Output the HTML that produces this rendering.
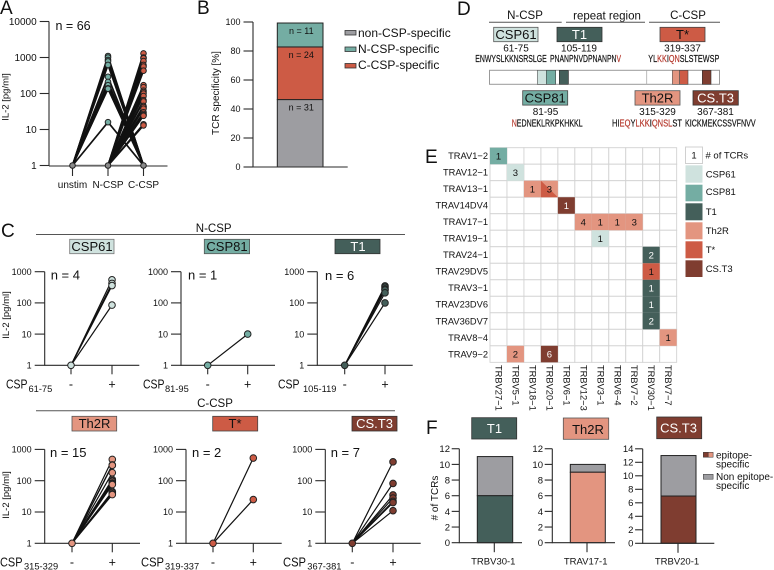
<!DOCTYPE html>
<html lang="en">
<head>
<meta charset="utf-8">
<title>CSP-specific TCR figure</title>
<style>
html,body{margin:0;padding:0;background:#fff;}
svg{display:block;filter:blur(.3px);}
text{font-family:"Liberation Sans",sans-serif;fill:#111;}
.letter{font-size:19px;}
.boxlabel{font-size:13px;text-anchor:middle;}
.hdr{font-size:11.5px;text-anchor:middle;}
.num{font-size:10px;text-anchor:middle;}
.seq{font-size:10px;font-weight:400;stroke:#111;stroke-width:.2;}
.red{fill:#b5372b;stroke:#b5372b;}
.leg{font-size:9.5px;}
.csp{font-size:12.5px;}
.sub{font-size:9.3px;}
</style>
</head>
<body>
<svg id="fig" xmlns="http://www.w3.org/2000/svg" width="774" height="570" viewBox="0 0 774 570">
  <rect x="0" y="0" width="774" height="570" fill="#fff"/>

  <!-- panel letters -->
  <text class="letter" x="0" y="14">A</text>
  <text class="letter" x="197" y="14">B</text>
  <text class="letter" x="1" y="237">C</text>
  <text class="letter" x="457" y="15">D</text>
  <text class="letter" x="425" y="163">E</text>
  <text class="letter" x="426" y="434">F</text>

  <!-- axis titles -->
  <text font-size="9.5" text-anchor="middle" transform="translate(8.5,97) rotate(-90)">IL-2 [pg/ml]</text>
  <text font-size="10" text-anchor="middle" transform="translate(219,93) rotate(-90)">TCR specificity [%]</text>
  <text font-size="9.5" text-anchor="middle" transform="translate(9,315) rotate(-90)">IL-2 [pg/ml]</text>
  <text font-size="9.5" text-anchor="middle" transform="translate(9,495) rotate(-90)">IL-2 [pg/ml]</text>
  <text font-size="10" text-anchor="middle" transform="translate(438,498) rotate(-90)"># of TCRs</text>

  <!-- panel A text -->
  <text x="55.5" y="30" font-size="12.5">n = 66</text>

  <!-- panel B legend -->
  <g>
    <rect x="345" y="30.5" width="11" height="4.5" fill="#9d9da1" stroke="#333" stroke-width=".8"/>
    <text x="358" y="37" font-size="12">non-CSP-specific</text>
    <rect x="345" y="47" width="11" height="4.5" fill="#74ada3" stroke="#333" stroke-width=".8"/>
    <text x="358" y="53" font-size="12">N-CSP-specific</text>
    <rect x="345" y="63.5" width="11" height="4.5" fill="#cd5b45" stroke="#333" stroke-width=".8"/>
    <text x="358" y="69" font-size="12">C-CSP-specific</text>
  </g>

  <!-- panel C headers -->
  <text class="hdr" x="213.7" y="232" font-size="11.5">N-CSP</text>
  <line x1="36" x2="405" y1="234.5" y2="234.5" stroke="#555" stroke-width="1"/>
  <rect x="69.7" y="239.3" width="44.3" height="14.4" fill="#cfe2de" stroke="#777" stroke-width=".8"/>
  <text class="boxlabel" x="92" y="251">CSP61</text>
  <rect x="204.3" y="239.3" width="45.3" height="14.4" fill="#74ada3" stroke="#555" stroke-width=".8"/>
  <text class="boxlabel" x="227" y="251">CSP81</text>
  <rect x="335" y="239.3" width="45" height="14.4" fill="#445f5a" stroke="#333" stroke-width=".8"/>
  <text class="boxlabel" x="358" y="251" style="fill:#fff">T1</text>

  <text class="hdr" x="215" y="407">C-CSP</text>
  <line x1="36" x2="395" y1="410.7" y2="410.7" stroke="#555" stroke-width="1"/>
  <rect x="72" y="416.3" width="44.7" height="14.7" fill="#e39580" stroke="#555" stroke-width=".8"/>
  <text class="boxlabel" x="94.5" y="428">Th2R</text>
  <rect x="212.7" y="416.3" width="45" height="14.7" fill="#cd5b45" stroke="#444" stroke-width=".8"/>
  <text class="boxlabel" x="235" y="428">T*</text>
  <rect x="352" y="416.3" width="45" height="14.7" fill="#7f3d30" stroke="#333" stroke-width=".8"/>
  <text class="boxlabel" x="374.5" y="428" style="fill:#fff">CS.T3</text>

  <!-- panel C x labels -->
  <text class="csp" x="6" y="388.5" textLength="21.5" lengthAdjust="spacingAndGlyphs">CSP</text>
  <text class="sub" x="28.5" y="392">61-75</text>
  <text class="csp" x="143" y="388.5" textLength="21.5" lengthAdjust="spacingAndGlyphs">CSP</text>
  <text class="sub" x="165" y="392">81-95</text>
  <text class="csp" x="278" y="388.5" textLength="21.5" lengthAdjust="spacingAndGlyphs">CSP</text>
  <text class="sub" x="303" y="392">105-119</text>
  <text class="csp" x="0" y="566.5" textLength="22.5" lengthAdjust="spacingAndGlyphs">CSP</text>
  <text class="sub" x="24" y="569.5">315-329</text>
  <text class="csp" x="141" y="566.5" textLength="23" lengthAdjust="spacingAndGlyphs">CSP</text>
  <text class="sub" x="165" y="569.5">319-337</text>
  <text class="csp" x="283" y="566.5" textLength="23" lengthAdjust="spacingAndGlyphs">CSP</text>
  <text class="sub" x="307.3" y="569.5">367-381</text>

  <!-- panel C n labels -->
  <text x="50.7" y="279.5" font-size="13">n = 4</text>
  <text x="188" y="279.5" font-size="13">n = 1</text>
  <text x="325" y="280" font-size="13">n = 6</text>
  <text x="50" y="457" font-size="13">n = 15</text>
  <text x="192" y="457" font-size="13">n = 2</text>
  <text x="330.7" y="457" font-size="13">n = 7</text>

  <!-- panel D -->
  <g>
    <text class="hdr" x="525" y="19">N-CSP</text>
    <line x1="489" x2="561.7" y1="22.3" y2="22.3" stroke="#555" stroke-width="1"/>
    <text class="hdr" x="607" y="19.5">repeat region</text>
    <line x1="566" x2="645" y1="22.3" y2="22.3" stroke="#555" stroke-width="1"/>
    <text class="hdr" x="688" y="19">C-CSP</text>
    <line x1="649" x2="720" y1="22.3" y2="22.3" stroke="#555" stroke-width="1"/>

    <rect x="493.7" y="27.3" width="44.3" height="14.4" fill="#cfe2de" stroke="#555" stroke-width=".8"/>
    <text class="boxlabel" x="516" y="39">CSP61</text>
    <text class="num" x="516" y="51.5">61-75</text>
    <text class="seq" x="475.3" y="62" textLength="71.4" lengthAdjust="spacingAndGlyphs">ENWYSLKKNSRSLGE</text>

    <rect x="557" y="27.3" width="45" height="14.4" fill="#445f5a" stroke="#333" stroke-width=".8"/>
    <text class="boxlabel" x="579.5" y="39" style="fill:#fff">T1</text>
    <text class="num" x="579" y="51.5">105-119</text>
    <text class="seq" x="550" y="62" textLength="71" lengthAdjust="spacingAndGlyphs">PNANPNVDPNANPN<tspan class="red">V</tspan></text>

    <rect x="660" y="27.3" width="45" height="14.4" fill="#cd5b45" stroke="#444" stroke-width=".8"/>
    <text class="boxlabel" x="682.5" y="39">T*</text>
    <text class="num" x="682.5" y="51.5">319-337</text>
    <text class="seq" x="648.3" y="62" textLength="71" lengthAdjust="spacingAndGlyphs">YL<tspan class="red">KK</tspan>I<tspan class="red">QN</tspan>SLSTEWSP</text>

    <rect x="489.5" y="70.3" width="230" height="14" fill="#fff" stroke="#999" stroke-width="1"/>
    <line x1="568.5" x2="568.5" y1="70.3" y2="84.3" stroke="#aaa" stroke-width=".8"/>
    <line x1="646.7" x2="646.7" y1="70.3" y2="84.3" stroke="#aaa" stroke-width=".8"/>
    <rect x="537.3" y="70.3" width="9" height="14" fill="#cfe2de" stroke="#555" stroke-width=".6"/>
    <rect x="546.3" y="70.3" width="9.4" height="14" fill="#74ada3" stroke="#444" stroke-width=".6"/>
    <rect x="559.3" y="70.3" width="9" height="14" fill="#445f5a" stroke="#333" stroke-width=".6"/>
    <rect x="672.3" y="70.3" width="7.4" height="14" fill="#e39580" stroke="#555" stroke-width=".6"/>
    <rect x="679.7" y="70.3" width="8.3" height="14" fill="#cd5b45" stroke="#444" stroke-width=".6"/>
    <rect x="702.3" y="70.3" width="8.7" height="14" fill="#7f3d30" stroke="#333" stroke-width=".6"/>

    <rect x="522.7" y="90.7" width="45" height="14.4" fill="#74ada3" stroke="#444" stroke-width=".8"/>
    <text class="boxlabel" x="545.2" y="102.5">CSP81</text>
    <text class="num" x="545.5" y="115">81-95</text>
    <text class="seq" x="511.7" y="126.5" textLength="71" lengthAdjust="spacingAndGlyphs"><tspan class="red">N</tspan>EDNEKLRKPKHKKL</text>

    <rect x="635" y="90.7" width="45" height="14.4" fill="#e39580" stroke="#555" stroke-width=".8"/>
    <text class="boxlabel" x="657.5" y="102.5">Th2R</text>
    <text class="num" x="657.5" y="115">315-329</text>
    <text class="seq" x="612" y="126.5" textLength="70" lengthAdjust="spacingAndGlyphs">HI<tspan class="red">EQ</tspan>Y<tspan class="red">LKK</tspan>I<tspan class="red">QNSL</tspan>ST</text>

    <rect x="693" y="90.7" width="45.3" height="14.4" fill="#7f3d30" stroke="#333" stroke-width=".8"/>
    <text class="boxlabel" x="715.6" y="102.5" style="fill:#fff">CS.T3</text>
    <text class="num" x="715.5" y="115">367-381</text>
    <text class="seq" x="685" y="126.5" textLength="70.7" lengthAdjust="spacingAndGlyphs">KICKMEKCSSVFNVV</text>
  </g>

  <!-- panel E legend -->
  <g>
    <rect x="685.5" y="147" width="17" height="16.5" fill="#fff" stroke="#d0d0d0" stroke-width="1"/>
    <text font-size="9.5" text-anchor="middle" x="694" y="158.5">1</text>
    <text class="leg" x="705.5" y="158.5"># of TCRs</text>
    <rect x="685.5" y="165.3" width="17" height="17.4" fill="#cfe2de"/>
    <text class="leg" x="705.7" y="177.5">CSP61</text>
    <rect x="685.5" y="184.7" width="17" height="16.6" fill="#74ada3"/>
    <text class="leg" x="705.7" y="195">CSP81</text>
    <rect x="685.5" y="203.3" width="17" height="17" fill="#445f5a"/>
    <text class="leg" x="705.7" y="215">T1</text>
    <rect x="685.5" y="222.3" width="17" height="17" fill="#e39580"/>
    <text class="leg" x="705.7" y="234">Th2R</text>
    <rect x="685.5" y="241.3" width="17" height="17" fill="#cd5b45"/>
    <text class="leg" x="705.7" y="253">T*</text>
    <rect x="685.5" y="260.3" width="17" height="16.7" fill="#7f3d30"/>
    <text class="leg" x="705.7" y="272">CS.T3</text>
  </g>

  <!-- panel F boxes -->
  <rect x="471.7" y="417.7" width="45" height="21.3" fill="#445f5a" stroke="#333" stroke-width=".8"/>
  <text class="boxlabel" x="494.5" y="433" style="fill:#fff">T1</text>
  <rect x="563.3" y="418" width="45.4" height="21.3" fill="#e39580" stroke="#555" stroke-width=".8"/>
  <text class="boxlabel" x="588" y="434">Th2R</text>
  <rect x="656.7" y="417" width="45" height="21.7" fill="#7f3d30" stroke="#333" stroke-width=".8"/>
  <text class="boxlabel" x="678.5" y="432.5" style="fill:#fff">CS.T3</text>

  <!-- panel F legend -->
  <g>
    <rect x="703.3" y="452.3" width="4.9" height="4.9" fill="#7f3d30" stroke="#333" stroke-width=".5"/>
    <rect x="708.2" y="452.3" width="4.9" height="4.9" fill="#e39580" stroke="#333" stroke-width=".5"/>
    <text font-size="10" x="716" y="458.5">epitope-</text>
    <text font-size="10" x="716" y="467.5">specific</text>
    <rect x="703.3" y="474.3" width="9.8" height="4.9" fill="#9d9da1" stroke="#333" stroke-width=".5"/>
    <text font-size="10" x="716" y="480">Non epitope-</text>
    <text font-size="10" x="716" y="489">specific</text>
  </g>

  <g id="marks"></g>
</svg>

<script>
// ---- Panel A data: IL-2 [pg/ml] per clone ----
const aCategories = ['unstim', 'N-CSP', 'C-CSP'];
const aTickValues = [1, 10, 100, 1000, 10000];
const aNCspValues = [1100, 1000, 850, 780, 620, 290, 210, 170, 140, 135, 16];
const aCCspValues = [1300, 1000, 950, 800, 620, 560, 430, 170, 150, 120, 110, 100, 85, 65, 60, 45, 42, 38, 30, 27, 25, 24, 14, 13];
const aBackgroundValue = [1];

// ---- Panel B data: percent of TCRs, stacked bottom to top ----
const bSeriesNames = ['non-csp', 'c-csp', 'n-csp'];
const bSeriesPercent = [46.5, 36.3, 16.5];
const bSeriesLabels = ['n = 31', 'n = 24', 'n = 11'];
const bTickValues = [0, 20, 40, 60, 80, 100];

// ---- Panel C data: IL-2 [pg/ml] with peptide ----
const cTickValues = [1, 10, 100, 1000];
const cConditions = ['-', '+'];
const csp61Values = [550, 420, 360, 85];
const csp81Values = [10];
const t1Values = [350, 320, 280, 260, 210, 100];
const th2rValues = [480, 320, 310, 180, 110, 100, 95, 85, 80, 78, 75, 45, 42, 38, 36];
const tStarValues = [530, 25];
const csT3Values = [400, 82, 35, 28, 22, 20, 11];

// ---- Panel E data ----
const heatRows = ['TRAV1\u22122','TRAV12\u22121','TRAV13\u22121','TRAV14DV4','TRAV17\u22121','TRAV19\u22121','TRAV24\u22121','TRAV29DV5','TRAV3\u22121','TRAV23DV6','TRAV36DV7','TRAV8\u22124','TRAV9\u22122'];
const heatCols = ['TRBV27\u22121','TRBV5\u22121','TRBV18\u22121','TRBV20\u22121','TRBV6\u22121','TRBV12\u22123','TRBV3\u22121','TRBV6\u22124','TRBV7\u22122','TRBV30\u22121','TRBV7\u22127'];
const heatCounts = [
  [1,0,0,0,0,0,0,0,0,0,0],
  [0,3,0,0,0,0,0,0,0,0,0],
  [0,0,1,3,0,0,0,0,0,0,0],
  [0,0,0,0,1,0,0,0,0,0,0],
  [0,0,0,0,0,4,1,1,3,0,0],
  [0,0,0,0,0,0,1,0,0,0,0],
  [0,0,0,0,0,0,0,0,0,2,0],
  [0,0,0,0,0,0,0,0,0,1,0],
  [0,0,0,0,0,0,0,0,0,1,0],
  [0,0,0,0,0,0,0,0,0,1,0],
  [0,0,0,0,0,0,0,0,0,2,0],
  [0,0,0,0,0,0,0,0,0,0,1],
  [0,2,0,6,0,0,0,0,0,0,0]
];
const heatEpitopes = [
  ['CSP81','','','','','','','','','',''],
  ['','CSP61','','','','','','','','',''],
  ['','','Th2R','Th2R/T*','','','','','','',''],
  ['','','','','CS.T3','','','','','',''],
  ['','','','','','Th2R','Th2R','Th2R','Th2R','',''],
  ['','','','','','','CSP61','','','',''],
  ['','','','','','','','','','T1',''],
  ['','','','','','','','','','T*',''],
  ['','','','','','','','','','T1',''],
  ['','','','','','','','','','T1',''],
  ['','','','','','','','','','T1',''],
  ['','','','','','','','','','','Th2R'],
  ['','Th2R','','CS.T3','','','','','','','']
];

// ---- Panel F data ----
const fT1Ticks = [0, 2, 4, 6, 8, 10, 12];
const fTh2rTicks = [0, 2, 4, 6, 8, 10, 12];
const fCsT3Ticks = [0, 2, 4, 6, 8, 10, 12, 14];
const fT1Epitope = [6];
const fT1Other = [5];
const fTh2rEpitope = [9];
const fTh2rOther = [1];
const fCsT3Epitope = [7];
const fCsT3Other = [6];

// ---- Drawing ----
const SVGNS = 'http://www.w3.org/2000/svg';
const root = document.getElementById('marks');
const COLORS = {'CSP61':'#cfe2de','CSP81':'#74ada3','T1':'#445f5a','Th2R':'#e39580','T*':'#cd5b45','CS.T3':'#7f3d30'};
const GRAY = '#9d9da1';
const AXIS = '#2a2a2a';

function mk(tag, name, attrs, content) {
  const el = document.createElementNS(SVGNS, tag);
  
  
  for (const k in attrs) el.setAttribute(k, attrs[k]);
  if (content !== undefined) el.textContent = content;
  root.appendChild(el);
  return el;
}
function hline(name, x1, x2, y, w) {
  return mk('line', name, {x1:x1, x2:x2, y1:y, y2:y, stroke:AXIS, 'stroke-width':w||1.1});
}
function vline(name, x, y1, y2, w) {
  return mk('line', name, {x1:x, x2:x, y1:y1, y2:y2, stroke:AXIS, 'stroke-width':w||1.1});
}
function logScale(yAt1, decadePx) {
  return function (v) { return yAt1 - Math.log10(v) * decadePx; };
}
function linScale(yAt0, pxPerUnit) {
  return function (v) { return yAt0 - v * pxPerUnit; };
}
function yAxis(prefix, x, scale, ticks, tickLen, gap, fontSize) {
  ticks.forEach(function (t) {
    hline(prefix + '-y-tick-' + t, x - tickLen, x, scale(t));
    mk('text', prefix + '-y-tick-label-' + t, {x:x - tickLen - gap, y:scale(t) + fontSize * 0.36, 'font-size':fontSize, 'text-anchor':'end'}, String(t));
  });
  vline(prefix + '-y-axis', x, scale(ticks[ticks.length - 1]) < scale(ticks[0]) ? scale(ticks[ticks.length - 1]) : scale(ticks[0]), scale(ticks[0]) + 0.5);
}
function dot(name, x, y, fill, r) {
  mk('circle', name, {cx:x, cy:y, r:r||3.3, fill:fill, stroke:'#222', 'stroke-width':1});
}

// Panel A
(function () {
  const y = logScale(165.5, 36);
  const xs = [72.5, 108, 143.5];
  yAxis('panel-a', 49, y, aTickValues, 9.3, 3, 10);
  hline('panel-a-x-axis', 49, 167.5, 166);
  xs.forEach(function (x, i) {
    vline('panel-a-x-tick-' + aCategories[i], x, 166, 176);
    mk('text', 'panel-a-x-label-' + aCategories[i], {x:x, y:188, 'font-size':10, 'text-anchor':'middle'}, aCategories[i]);
  });
  const bg = aBackgroundValue[0];
  mk('line', 'panel-a-background-line', {x1:xs[0], x2:xs[2], y1:y(bg), y2:y(bg), stroke:'#666', 'stroke-width':1.6});
  aNCspValues.forEach(function (v, i) {
    mk('polyline', 'panel-a-n-csp-line-' + i, {points:xs[0] + ',' + y(bg) + ' ' + xs[1] + ',' + y(v) + ' ' + xs[2] + ',' + y(bg), fill:'none', stroke:'#111', 'stroke-width':1.7});
  });
  aCCspValues.forEach(function (v, i) {
    mk('polyline', 'panel-a-c-csp-line-' + i, {points:xs[1] + ',' + y(bg) + ' ' + xs[2] + ',' + y(v), fill:'none', stroke:'#111', 'stroke-width':1.7});
  });
  xs.forEach(function (x, i) { dot('panel-a-background-point-' + i, x, y(bg), '#8a8a8a', 2.8); });
  aNCspValues.forEach(function (v, i) { dot('panel-a-n-csp-point-' + i, xs[1], y(v), COLORS['CSP81'], 2.8); });
  aCCspValues.forEach(function (v, i) { dot('panel-a-c-csp-point-' + i, xs[2], y(v), COLORS['T*'], 2.8); });
})();

// Panel B
(function () {
  const y = linScale(167, 1.45);
  yAxis('panel-b', 253, y, bTickValues, 9.5, 3, 9);
  const fills = [GRAY, COLORS['T*'], COLORS['CSP81']];
  let base = 0;
  bSeriesPercent.forEach(function (p, i) {
    mk('rect', 'panel-b-segment-' + bSeriesNames[i], {x:277.3, y:y(base + p), width:45.7, height:y(base) - y(base + p), fill:fills[i], stroke:'#222', 'stroke-width':1});
    mk('text', 'panel-b-segment-label-' + bSeriesNames[i], {x:301.3, y:y(base + p) + 11, 'font-size':9, 'text-anchor':'middle'}, bSeriesLabels[i]);
    base += p;
  });
  hline('panel-b-x-axis', 253, 347.7, 167);
})();

// Panel C
function pairChart(prefix, values, color, axisX, endX, xMinus, xPlus, yAt1, decade) {
  const y = logScale(yAt1, decade);
  yAxis(prefix, axisX, y, cTickValues, 10, 3, 9);
  hline(prefix + '-x-axis', axisX, endX, yAt1);
  [xMinus, xPlus].forEach(function (x, i) {
    vline(prefix + '-x-tick-' + i, x, yAt1, yAt1 + 9);
    const lab = mk('text', prefix + '-x-label-' + i, {x:x, y:yAt1 + 23, 'font-size':12.5, 'text-anchor':'middle'}, cConditions[i]);
    lab.style.fontWeight = '400';
  });
  values.forEach(function (v, i) {
    mk('line', prefix + '-line-' + i, {x1:xMinus, y1:y(1), x2:xPlus, y2:y(v), stroke:'#111', 'stroke-width':1.2});
  });
  dot(prefix + '-baseline-point', xMinus, y(1), color);
  values.forEach(function (v, i) { dot(prefix + '-point-' + i, xPlus, y(v), color); });
}
pairChart('csp61-chart', csp61Values, COLORS['CSP61'], 44.7, 139.3, 71, 112, 365.3, 31.2);
pairChart('csp81-chart', csp81Values, COLORS['CSP81'], 181, 275, 207.7, 247.7, 365.3, 31.2);
pairChart('t1-chart', t1Values, COLORS['T1'], 317.3, 412.7, 344.7, 385, 365.3, 31.2);
pairChart('th2r-chart', th2rValues, COLORS['Th2R'], 44.7, 140, 72, 112.3, 543.3, 31.3);
pairChart('t-star-chart', tStarValues, COLORS['T*'], 186, 281.7, 213, 253.3, 543.3, 31.3);
pairChart('cs-t3-chart', csT3Values, COLORS['CS.T3'], 325.3, 420.7, 352.3, 393, 543.3, 31.3);

// Panel E
(function () {
  const x0 = 490, y0 = 147.7, cw = 16.97, ch = 16.51;
  heatRows.forEach(function (rowName, r) {
    mk('text', 'heatmap-row-label-' + r, {x:488, y:y0 + r * ch + ch / 2 + 3.2, 'font-size':9.3, 'text-anchor':'end'}, rowName);
    heatCols.forEach(function (colName, c) {
      mk('rect', 'heatmap-grid-cell-' + r + '-' + c, {x:x0 + c * cw, y:y0 + r * ch, width:cw, height:ch, fill:'#fff', stroke:'#d2d2d2', 'stroke-width':0.9});
    });
  });
  heatCols.forEach(function (colName, c) {
    const cx = x0 + c * cw + cw / 2;
    mk('text', 'heatmap-col-label-' + c, {transform:'translate(' + (cx - 3) + ',365) rotate(90)', 'font-size':9.3}, colName);
  });
  heatCounts.forEach(function (row, r) {
    row.forEach(function (count, c) {
      if (!count) return;
      const cx = x0 + c * cw, cy = y0 + r * ch;
      const ep = heatEpitopes[r][c];
      if (ep.indexOf('/') >= 0) {
        const parts = ep.split('/');
        mk('rect', 'heatmap-cell-' + r + '-' + c, {x:cx, y:cy, width:cw, height:ch, fill:COLORS[parts[0]]});
        mk('polygon', 'heatmap-cell-split-' + r + '-' + c, {points:cx + ',' + cy + ' ' + (cx + cw) + ',' + (cy + ch) + ' ' + cx + ',' + (cy + ch), fill:COLORS[parts[1]]});
      } else {
        mk('rect', 'heatmap-cell-' + r + '-' + c, {x:cx, y:cy, width:cw, height:ch, fill:COLORS[ep]});
      }
      const light = ep === 'T1' || ep === 'CS.T3';
      const t = mk('text', 'heatmap-cell-value-' + r + '-' + c, {x:cx + cw / 2, y:cy + ch / 2 + 3.4, 'font-size':9.5, 'text-anchor':'middle'}, String(count));
      if (light) t.style.fill = '#fff';
    });
  });
})();

// Panel F
function stackedChart(prefix, ticks, epitope, other, color, label, axisX, endX, barX, barW, tickX, labelX, yAt0, pxPerUnit) {
  const y = linScale(yAt0, pxPerUnit);
  yAxis(prefix, axisX, y, ticks, 7.6, 1.7, 9.5);
  const a = epitope[0], b = other[0];
  mk('rect', prefix + '-other-bar', {x:barX, y:y(a + b), width:barW, height:y(a) - y(a + b), fill:GRAY, stroke:'#222', 'stroke-width':1});
  mk('rect', prefix + '-epitope-bar', {x:barX, y:y(a), width:barW, height:y(0) - y(a), fill:color, stroke:'#222', 'stroke-width':1});
  hline(prefix + '-x-axis', axisX, endX, yAt0);
  vline(prefix + '-x-tick', tickX, yAt0, yAt0 + 9.5);
  mk('text', prefix + '-x-label', {x:labelX, y:564.5, 'font-size':9.5, 'text-anchor':'middle'}, label);
}
stackedChart('f-t1-chart', fT1Ticks, fT1Epitope, fT1Other, COLORS['T1'], 'TRBV30-1', 459.3, 522, 477.3, 35.4, 494.3, 493.3, 542.7, 7.83);
stackedChart('f-th2r-chart', fTh2rTicks, fTh2rEpitope, fTh2rOther, COLORS['Th2R'], 'TRAV17-1', 552.3, 615, 570.3, 35, 587, 585.7, 542.7, 7.83);
stackedChart('f-cs-t3-chart', fCsT3Ticks, fCsT3Epitope, fCsT3Other, COLORS['CS.T3'], 'TRBV20-1', 642.7, 714.3, 661, 35, 678, 677, 543.3, 6.75);
</script>
</body>
</html>
